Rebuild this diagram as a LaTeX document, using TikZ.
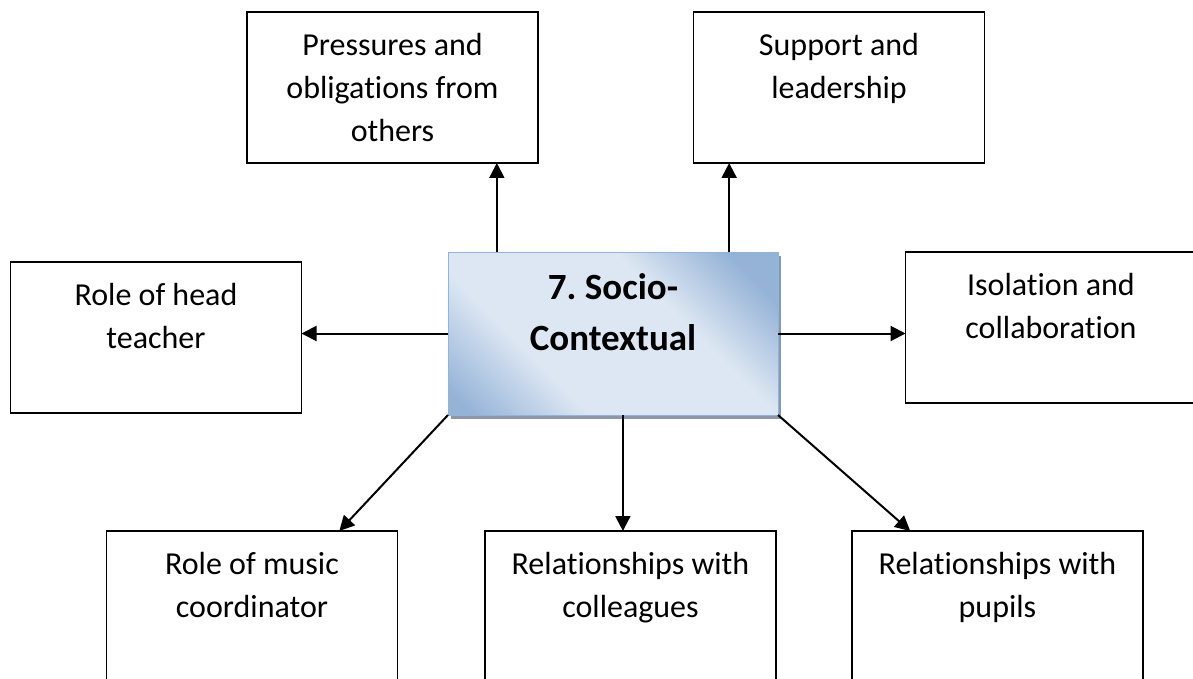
\documentclass[tikz,border=0pt]{standalone}
\usepackage{fontspec}
\setmainfont[RawFeature={-liga;-clig;-calt;-dlig}]{Carlito}
\usetikzlibrary{positioning,calc,shadows,arrows.meta}
\definecolor{sociodark}{RGB}{149,179,215}
\definecolor{sociolight}{RGB}{221,231,243}
\definecolor{socioshadow}{RGB}{140,152,170}
\pgfdeclarehorizontalshading{socioshade}{100bp}{color(0bp)=(sociodark); color(18bp)=(sociodark); color(35bp)=(sociolight); color(62bp)=(sociolight); color(78bp)=(sociodark); color(100bp)=(sociodark)}

\tikzset{
  catbox/.style={draw, line width=1.5pt, minimum width=291pt, minimum height=151pt, outer sep=0pt, inner sep=0pt},
  cattext/.style={align=center, inner sep=0pt, font=\fontsize{32pt}{43pt}\selectfont, below=12.9pt},
  centretext/.style={align=center, inner sep=0pt, font=\bfseries\fontsize{37pt}{51pt}\selectfont\frenchspacing, below=11.3pt},
  arr/.style={line width=2pt, -{Triangle[length=15pt,width=15pt]}}
}

\begin{document}
\begin{tikzpicture}[x=1pt,y=-1pt]
    \useasboundingbox (0,0) rectangle (1193,679);
    \clip (0,0) rectangle (1193,679);

    % Central theme
    \node[draw=sociodark, line width=1pt, minimum width=330pt, minimum height=163pt, outer sep=0pt,
          shading=socioshade, shading angle=45,
          drop shadow={shadow xshift=3pt, shadow yshift=-4pt, fill=socioshadow, opacity=1},
          label={[centretext]north:{\strut 7.\ Socio-\\Contextual}}] (centre) at (613,333.5) {};

    % Top row
    \node[catbox, label={[cattext]north:{\strut Pressures and\\obligat\kern0pt ions from\\others}}] (press) at (392.5,87.5) {};
    \node[catbox, label={[cattext]north:{\strut Support and\\leadership}}] (support) at (839,87.5) {};

    % Middle row
    \node[catbox, label={[cattext]north:{\strut Role of head\\teacher}}] (head) at (156,337.5) {};
    \node[catbox, label={[cattext]north:{\strut Isolation and\\collaborat\kern0pt ion}}] (isol) at (1051,327.5) {};

    % Bottom row
    \node[catbox, label={[cattext]north:{\strut Role of music\\coordinator}}] (music) at (252,606.5) {};
    \node[catbox, label={[cattext]north:{\strut Relationships with\\colleagues}}] (colleag) at (630.5,606.5) {};
    \node[catbox, label={[cattext]north:{\strut Relationships with\\pupils}}] (pupils) at (997.5,606.5) {};

    % Arrows
    \coordinate (pa) at ($(centre.north west)!0.148!(centre.north east)$);
    \coordinate (sa) at ($(centre.north west)!0.852!(centre.north east)$);
    \coordinate (ca) at ($(centre.south west)!0.53!(centre.south east)$);
    \draw[arr] (pa) -- (pa |- press.south);
    \draw[arr] (sa) -- (sa |- support.south);
    \draw[arr] (centre.west) -- (centre.west -| head.east);
    \draw[arr] (centre.east) -- (centre.east -| isol.west);
    \draw[arr] (ca) -- (ca |- colleag.north);
    \draw[arr] (centre.south west) -- ($(music.north west)!0.8!(music.north east)$);
    \draw[arr] (centre.south east) -- ($(pupils.north west)!0.2!(pupils.north east)$);
\end{tikzpicture}
\end{document}
